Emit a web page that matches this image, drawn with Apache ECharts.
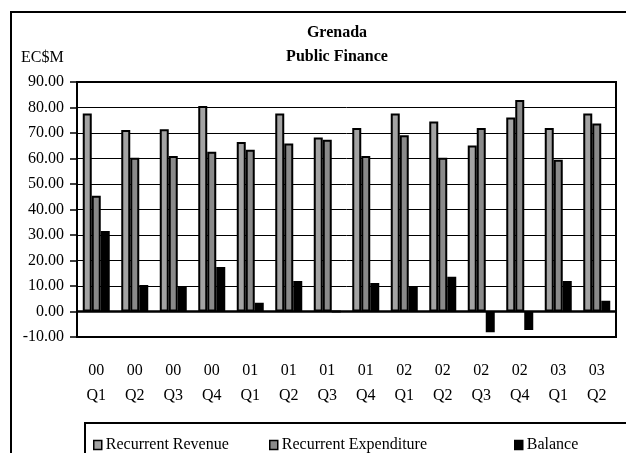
<!DOCTYPE html>
<html>
<head>
<meta charset="utf-8">
<title>Grenada Public Finance</title>
<script src="https://cdn.jsdelivr.net/npm/echarts@6/dist/echarts.min.js"></script>
<style>
  html, body { margin: 0; padding: 0; background: #fff; }
  #main { width: 626px; height: 453px; }
</style>
</head>
<body>
<div id="main"></div>
<script>
// quarters (year / quarter)
var quarters = ['00\nQ1', '00\nQ2', '00\nQ3', '00\nQ4', '01\nQ1', '01\nQ2', '01\nQ3',
                '01\nQ4', '02\nQ1', '02\nQ2', '02\nQ3', '02\nQ4', '03\nQ1', '03\nQ2'];
// EC$M
var recurrentRevenue = [77.6, 71.2, 71.5, 80.6, 66.5, 77.6, 68.2, 72.0, 77.6, 74.5, 65.1, 76.1, 72.0, 77.6];
var recurrentExpenditure = [45.4, 60.3, 61.0, 62.6, 63.4, 65.9, 67.4, 61.0, 69.1, 60.3, 72.0, 82.9, 59.5, 73.7];
var balance = [31.6, 10.4, 9.7, 17.5, 3.4, 12.0, 0, 11.2, 9.7, 13.6, -8.1, -7.3, 12.0, 4.2];

var font = 'Liberation Serif';
var myChart = echarts.init(document.getElementById('main'));

function barSeries(name, data, color) {
    return {
        name: name,
        type: 'bar',
        data: data,
        barWidth: 9,
        barGap: '0%',
        itemStyle: { color: color, borderColor: '#000', borderWidth: 2 },
        animation: false
    };
}

function legendAt(x, name) {
    return {
        left: x, top: 432,
        data: [name],
        icon: 'rect',
        itemWidth: 8, itemHeight: 9,
        itemGap: 0,
        selectedMode: false,
        textStyle: { fontFamily: font, fontSize: 16, color: '#000', padding: [0, 0, 0, -1] },
        itemStyle: { borderColor: '#000', borderWidth: 1.5 }
    };
}

var option = {
    backgroundColor: '#fff',
    title: {
        text: 'Grenada\nPublic Finance',
        left: 332, top: 16,
        textAlign: 'center',
        textStyle: { fontFamily: font, fontSize: 16, fontWeight: 'bold', color: '#000', lineHeight: 24 }
    },
    graphic: [
        { type: 'rect', shape: { x: 11, y: 12, width: 640, height: 500 },
          style: { fill: 'none', stroke: '#000', lineWidth: 2 }, silent: true },
        { type: 'rect', shape: { x: 85, y: 423, width: 600, height: 60 },
          style: { fill: 'none', stroke: '#000', lineWidth: 2 }, silent: true },
        { type: 'text', left: 21, top: 50,
          style: { text: 'EC$M', font: '16px "Liberation Serif"', fill: '#000' } }
    ],
    legend: [
        legendAt(88, 'Recurrent Revenue'),
        legendAt(264, 'Recurrent Expenditure'),
        legendAt(509, 'Balance')
    ],
    grid: {
        left: 77, right: 10, top: 82, bottom: 116,
        show: true, borderColor: '#000', borderWidth: 2
    },
    xAxis: {
        type: 'category',
        data: quarters,
        axisLine: { onZero: false, lineStyle: { color: '#000', width: 2 } },
        axisTick: { show: false },
        axisLabel: { fontFamily: font, fontSize: 16, color: '#000', lineHeight: 25, margin: 21, interval: 0 }
    },
    yAxis: {
        type: 'value',
        min: -10, max: 90, interval: 10,
        axisLine: { show: true, lineStyle: { color: '#000', width: 2 } },
        axisTick: { show: true, length: 7, lineStyle: { color: '#000', width: 1.5 } },
        splitLine: { lineStyle: { color: '#000', width: 1 } },
        axisLabel: {
            fontFamily: font, fontSize: 16, color: '#000', margin: 13,
            formatter: function (v) { return v.toFixed(2); }
        }
    },
    series: [
        barSeries('Recurrent Revenue', recurrentRevenue, '#a3a3a3'),
        barSeries('Recurrent Expenditure', recurrentExpenditure, '#8a8a8a'),
        Object.assign(barSeries('Balance', balance, '#000'), {
            markLine: {
                silent: true, symbol: 'none',
                label: { show: false },
                lineStyle: { color: '#000', width: 2.5, type: 'solid' },
                data: [{ yAxis: 0 }]
            }
        })
    ]
};
myChart.setOption(option);
</script>
</body>
</html>
